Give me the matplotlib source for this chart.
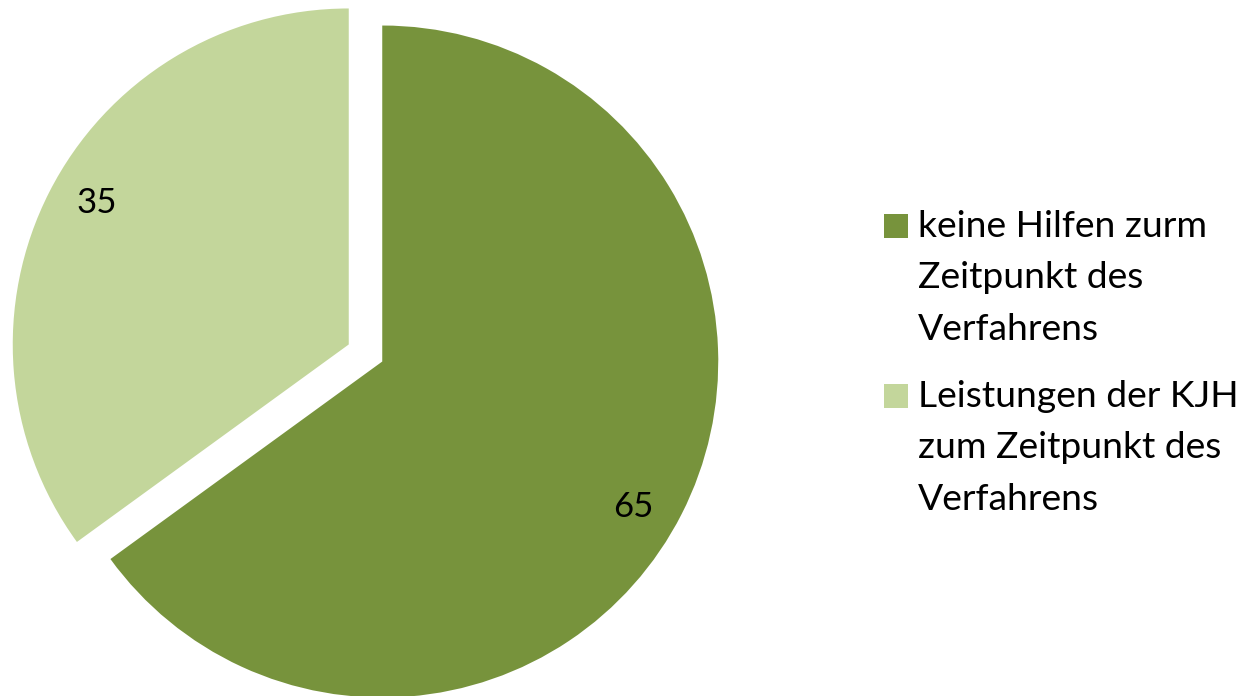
import matplotlib
matplotlib.use("Agg")
import matplotlib.pyplot as plt
from matplotlib.patches import Rectangle

# ── Data ─────────────────────────────────────────────────────────────────────
categories = ["keine Hilfen zurm\nZeitpunkt des\nVerfahrens",
              "Leistungen der KJH\nzum Zeitpunkt des\nVerfahrens"]
values = [65, 35]
colors = ["#77933C", "#C3D69B"]

W, H = 1255, 696
FONT = "Lato"

fig = plt.figure(figsize=(W / 100, H / 100), dpi=100, facecolor="white")
ax = fig.add_axes([0, 0, 1, 1])

# axes in pixel units, y up
wedges, texts, autotexts = ax.pie(
    values, colors=colors, startangle=90, counterclock=False,
    center=(365.5, H - 353), radius=336, explode=[18.8, 18.8],
    autopct=lambda p: f"{p * sum(values) / 100:.0f}", pctdistance=0.863,
    textprops=dict(fontsize=25, color="black", family=FONT),
    wedgeprops=dict(linewidth=0), frame=True)
ax.set_xlim(0, W)
ax.set_ylim(0, H)
ax.set_aspect("equal")
ax.axis("off")

# Excel puts the data labels a bit off the bisector
autotexts[0].set_position((633, H - 507))
autotexts[1].set_position((97, H - 203))

# ── Legend (manual, marker aligned with first line) ──────────────────────────
leg_x, first_base = 884, [237, 407]
line_h = 51.5
for c, lab, y0 in zip(colors, categories, first_base):
    ax.add_patch(Rectangle((leg_x, H - y0 - 1), 24, 24, facecolor=c,
                           edgecolor="none"))
    for i, line in enumerate(lab.split("\n")):
        ax.text(918, H - (y0 + i * line_h), line, fontsize=26.8, family=FONT,
                color="black", ha="left", va="baseline")

fig.savefig("out.png", dpi=100, facecolor="white")
